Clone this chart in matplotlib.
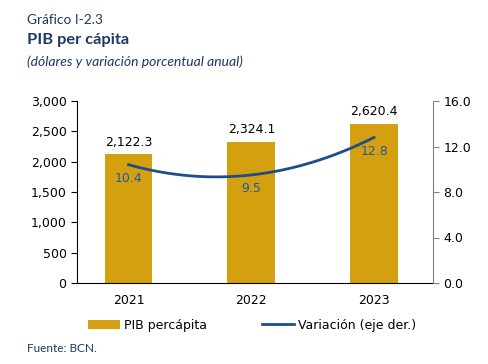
import matplotlib.pyplot as plt
import numpy as np
from matplotlib.ticker import FuncFormatter

years = ['2021', '2022', '2023']
pib = [2122.3, 2324.1, 2620.4]
variacion = [10.4, 9.5, 12.8]

gold = '#D5A00F'
blue = '#1B4F8A'
navy = '#1F3864'

plt.rcParams['font.family'] = 'DejaVu Sans'

fig = plt.figure(figsize=(4.89, 3.64), dpi=100)
ax = fig.add_axes([77/489, 1 - 283/364, (433 - 77)/489, (283 - 101)/364])
x = np.arange(len(years))

bars = ax.bar(x, pib, width=0.39, color=gold, label='PIB percápita')
ax.set_xlim(-0.42, 2.48)
ax.set_ylim(0, 3000)
ax.set_yticks(np.arange(0, 3001, 500))
ax.yaxis.set_major_formatter(FuncFormatter(lambda v, p: f'{v:,.0f}'))
ax.set_xticks(x, years)
ax.tick_params(axis='x', length=0, pad=8, labelsize=9)
ax.tick_params(axis='y', length=4, labelsize=9, direction='out')
ax.spines['top'].set_visible(False)
ax.spines['right'].set_visible(False)
ax.bar_label(bars, labels=[f'{v:,.1f}' for v in pib], padding=4, fontsize=9)

ax2 = ax.twinx()
# smooth line through the three points
coef = np.polyfit(x, variacion, 2)
xs = np.linspace(0, 2, 100)
line, = ax2.plot(xs, np.polyval(coef, xs), color=blue, lw=2, label='Variación (eje der.)')
ax2.set_ylim(0, 16)
ax2.set_yticks(np.arange(0, 16.1, 4))
ax2.yaxis.set_major_formatter(FuncFormatter(lambda v, p: f'{v:.1f}'))
ax2.tick_params(axis='y', length=4, labelsize=9, color='#808080')
for s in ['top', 'left', 'bottom']:
    ax2.spines[s].set_visible(False)
ax2.spines['right'].set_color('#808080')
for xi, v in zip(x, variacion):
    ax2.annotate(f'{v:.1f}', (xi, v), xytext=(0, -10), textcoords='offset points',
                 ha='center', va='center', fontsize=9, color='#2458A0')

fig.legend(handles=[bars, line], loc='center', bbox_to_anchor=(0.515, 1 - 325/364),
           ncol=2, frameon=False, fontsize=9, handlelength=2.6, columnspacing=4.4,
           handletextpad=0.3)

fig.text(27/489, 1 - 20/364, 'Gráfico I-2.3', fontsize=9.8, color=navy, va='center',
         family='Lato')
fig.text(27/489, 1 - 40/364, 'PIB per cápita', fontsize=11.8, color=navy, va='center',
         family='Lato', fontweight='bold')
fig.text(27/489, 1 - 62/364, '(dólares y variación porcentual anual)', fontsize=10,
         color=navy, va='center', family='Lato', style='italic')
fig.text(27/489, 1 - 349/364, 'Fuente: BCN.', fontsize=8.5, color=navy, va='center',
         family='Lato')

fig.savefig('out.png', dpi=100)
